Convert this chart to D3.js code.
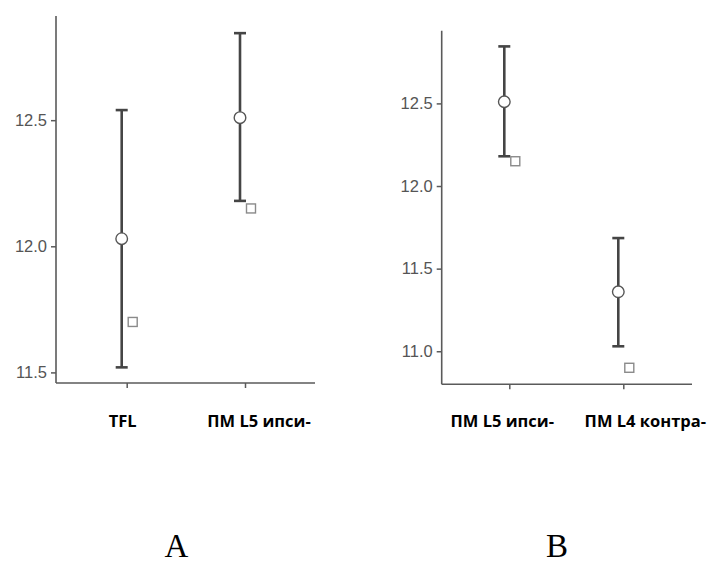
<!DOCTYPE html>
<html>
<head>
<meta charset="utf-8">
<script src="https://cdn.jsdelivr.net/npm/d3@7"></script>
<style>
  html, body { margin: 0; padding: 0; background: #fff; }
  svg { display: block; }
</style>
</head>
<body>
<svg id="chart" width="707" height="565"></svg>
<script>
// Panel A: TFL vs ПМ L5 ипси-
const catsA = ["TFL", "ПМ L5 ипси-"];
const meanA = [12.03, 12.51];
const lowA = [11.52, 12.18];
const highA = [12.54, 12.845];
const refA = [11.70, 12.15];
const ticksA = [11.5, 12.0, 12.5];

// Panel B: ПМ L5 ипси- vs ПМ L4 контра-
const catsB = ["ПМ L5 ипси-", "ПМ L4 контра-"];
const meanB = [12.51, 11.36];
const lowB = [12.18, 11.03];
const highB = [12.845, 11.685];
const refB = [12.15, 10.90];
const ticksB = [11.0, 11.5, 12.0, 12.5];

const panelLetters = ["A", "B"];

const svg = d3.select("#chart");

const panels = [
  {
    cats: catsA, mean: meanA, low: lowA, high: highA, ref: refA, ticks: ticksA,
    yDomain: [11.458, 12.913], yRange: [383, 16],
    axisX: 56, axisRight: 315, xRange: [126.7, 245],
    labelDx: [-4, 14], letter: panelLetters[0], letterX: 176.5
  },
  {
    cats: catsB, mean: meanB, low: lowB, high: highB, ref: refB, ticks: ticksB,
    yDomain: [10.80, 12.94], yRange: [384.3, 30.7],
    axisX: 441.7, axisRight: 692, xRange: [509.3, 623.3],
    labelDx: [-7, 22], letter: panelLetters[1], letterX: 557
  }
];

const axisColor = "#5a5a5a";
const barColor = "#454545";

panels.forEach(p => {
  const y = d3.scaleLinear().domain(p.yDomain).range(p.yRange);
  const x = d3.scalePoint().domain(p.cats).range(p.xRange).padding(0);
  const g = svg.append("g");
  const bottom = p.yRange[0];

  // y axis
  const yAxis = d3.axisLeft(y).tickValues(p.ticks).tickFormat(d3.format(".1f"))
    .tickSize(5).tickPadding(4);
  const ga = g.append("g").attr("transform", `translate(${p.axisX},0)`).call(yAxis);
  ga.select(".domain").remove();
  ga.selectAll(".tick line").attr("stroke", axisColor).attr("stroke-width", 1.5);
  ga.selectAll(".tick text")
    .attr("fill", "#555")
    .style("font-family", "'Liberation Sans', Arial, sans-serif")
    .style("font-size", "16.5px");

  // x axis
  const xAxis = d3.axisBottom(x).tickSize(5).tickFormat("");
  const gx = g.append("g").attr("transform", `translate(0,${bottom})`).call(xAxis);
  gx.select(".domain").remove();
  gx.selectAll(".tick line").attr("stroke", axisColor).attr("stroke-width", 1.5);

  // axis lines
  g.append("line")
    .attr("x1", p.axisX).attr("x2", p.axisX)
    .attr("y1", p.yRange[1]).attr("y2", bottom)
    .attr("stroke", axisColor).attr("stroke-width", 1.6);
  g.append("line")
    .attr("x1", p.axisX).attr("x2", p.axisRight)
    .attr("y1", bottom).attr("y2", bottom)
    .attr("stroke", axisColor).attr("stroke-width", 1.6);

  // category labels
  g.selectAll("text.cat").data(p.cats).enter().append("text")
    .attr("class", "cat")
    .attr("x", (d, i) => x(d) + p.labelDx[i])
    .attr("y", 427)
    .attr("text-anchor", "middle")
    .style("font-family", "'Open Sans', sans-serif")
    .style("font-weight", "700")
    .style("font-size", "16.5px")
    .attr("fill", "#000")
    .text(d => d);

  const rows = p.cats.map((c, i) => ({ c, mean: p.mean[i], low: p.low[i], high: p.high[i], ref: p.ref[i] }));
  const barDx = -5, refDx = 6, capW = 6;

  // error bars with mean circle and reference square
  rows.forEach(r => {
    const cx = x(r.c) + barDx;
    g.append("line").attr("x1", cx).attr("x2", cx)
      .attr("y1", y(r.high)).attr("y2", y(r.low))
      .attr("stroke", barColor).attr("stroke-width", 2.6);
    [r.high, r.low].forEach(v => {
      g.append("line").attr("x1", cx - capW).attr("x2", cx + capW)
        .attr("y1", y(v)).attr("y2", y(v))
        .attr("stroke", barColor).attr("stroke-width", 2.6);
    });
    g.append("circle").attr("cx", cx).attr("cy", y(r.mean)).attr("r", 5.8)
      .attr("fill", "#fff").attr("stroke", "#555").attr("stroke-width", 1.4);
    g.append("rect")
      .attr("x", x(r.c) + refDx - 4.5).attr("y", y(r.ref) - 4.5)
      .attr("width", 9).attr("height", 9)
      .attr("fill", "#fff").attr("stroke", "#8a8a8a").attr("stroke-width", 1.4);
  });

  // panel letter
  svg.append("text")
    .attr("x", p.letterX).attr("y", 557)
    .attr("text-anchor", "middle")
    .style("font-family", "'Liberation Serif', 'Times New Roman', serif")
    .style("font-size", "33px")
    .attr("fill", "#000")
    .text(p.letter);
});
</script>
</body>
</html>
